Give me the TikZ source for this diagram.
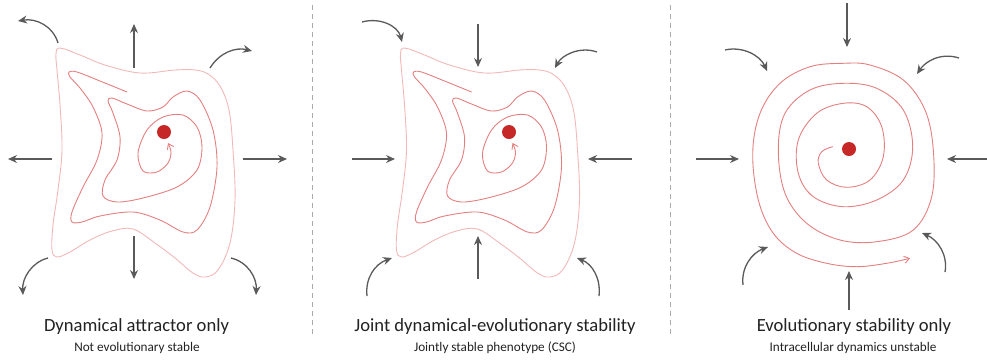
\documentclass[tikz,border=0pt]{standalone}
\usepackage{fontspec}
\setmainfont{Carlito}
\usetikzlibrary{arrows.meta}
\definecolor{arrowgrey}{HTML}{5A5A5A}
\definecolor{outerpink}{HTML}{F2B8B8}
\definecolor{spiralred}{HTML}{E47F7F}
\definecolor{dotred}{HTML}{C62828}
\definecolor{sepgrey}{HTML}{AAAAAA}
\definecolor{textdark}{HTML}{222222}
\tikzset{
  flow/.style={draw=arrowgrey, line width=1.3pt, -{Stealth[length=9pt,width=8pt]}},
  outercurve/.style={draw=outerpink, line width=0.9pt},
  spiralcurve/.style={draw=spiralred, line width=0.9pt, line cap=round, line join=round},
  spiralend/.style={-{Straight Barb[length=5pt,width=7pt]}},
  fixdot/.style={circle, fill=dotred, inner sep=0pt, minimum size=14pt},
  sepline/.style={draw=sepgrey, line width=0.8pt, dash pattern=on 5pt off 4pt},
  titletext/.style={text=textdark, font=\fontsize{18.6}{21}\selectfont, anchor=center},
  subtext/.style={text=textdark, font=\fontsize{13.2}{15}\selectfont, anchor=center}
}
\newcommand{\landscapeshape}{%
  \draw[outercurve] plot[smooth cycle, tension=0.6] coordinates {
    (60,48) (80,55) (105,65) (140,73) (175,70) (195,70) (208,74) (220,86) (229,110)
    (233,150) (235,200) (230,243) (218,270) (205,277) (193,273) (175,258) (155,243)
    (133,229) (112,231) (90,240) (70,252) (57,257) (52,250) (53,225) (58,190)
    (62,150) (60,105) (57,70) (56,54)};
  \draw[spiralcurve, spiralend] plot[smooth, tension=0.55] coordinates {
    (127,92) (100,81) (77,72) (69,72) (70,77) (80,88) (93,107) (102,133) (97,160)
    (83,187) (72,212) (72,222) (82,222) (100,216) (133,212) (160,220) (183,232)
    (197,230) (210,207) (217,167) (213,130) (200,100) (187,91) (173,97) (163,107)
    (147,111) (127,104) (112,98) (108,101) (113,113) (120,137) (117,160) (105,180)
    (103,196) (117,202) (143,198) (177,187) (197,170) (202,147) (197,127) (183,115)
    (163,117) (147,130) (138,153) (143,171) (157,172) (168,163) (171,152) (168,143)};
}
\begin{document}
\begin{tikzpicture}[x=1pt,y=-1pt]
\useasboundingbox (0,0) rectangle (987,360);
% separators
\coordinate (s1a) at (312,5); \coordinate (s1b) at (312,336);
\coordinate (s2a) at (670,5); \coordinate (s2b) at (670,336);
\draw[sepline] (s1a) -- (s1b);
\draw[sepline] (s2a) -- (s2b);

% ---------- Panel 1 ----------
\landscapeshape
\node[fixdot] (d1) at (164,132) {};
\draw[flow] (134,68) -- (134,24);
\draw[flow] (52,159) -- (8,159);
\draw[flow] (243,159) -- (287,159);
\draw[flow] (134,236) -- (134,279);
\draw[flow] (58,43) .. controls (53,26) and (36,18) .. (18,21);
\draw[flow] (210,68) .. controls (220,52) and (236,47) .. (252,51);
\draw[flow] (48,258) .. controls (32,262) and (22,278) .. (23,295);
\draw[flow] (231,258) .. controls (248,262) and (257,278) .. (256,295);
\node[titletext] (t1) at (136.5,327) {Dynamical attractor only};
\node[subtext] (u1) at (137,348) {Not evolutionary stable};

% ---------- Panel 2 ----------
\begin{scope}[xshift=344.5pt]
\landscapeshape
\end{scope}
\node[fixdot] (d2) at (509,132) {};
\draw[flow] (478,24) -- (478,67);
\draw[flow] (352,159) -- (395,159);
\draw[flow] (632,159) -- (588,159);
\draw[flow] (478,279) -- (478,236);
\draw[flow] (362,22) .. controls (380,17) and (398,26) .. (402,42);
\draw[flow] (597,52) .. controls (580,46) and (562,55) .. (555,68);
\draw[flow] (367,296) .. controls (365,278) and (375,264) .. (392,258);
\draw[flow] (599,296) .. controls (601,278) and (592,264) .. (577,258);
\node[titletext] (t2) at (495,327) {Joint dynamical-evolutionary stability};
\node[subtext] (u2) at (495,348) {Jointly stable phenotype (CSC)};

% ---------- Panel 3 ----------
\draw[spiralcurve, spiralend] plot[smooth, tension=0.6] coordinates {
  (832.7,146.7) (821.7,151.7) (818.3,163.3) (826.7,180) (846.7,187.3) (870,180)
  (883.3,156.7) (881.7,126.7) (866.7,106.7) (843.3,103.3) (816.7,113.3) (798.3,140)
  (798.3,173.3) (813.3,196.7) (843.3,206.7) (876.7,200) (903.3,180) (912.7,146.7)
  (903.3,110) (876.7,88.3) (843.3,83.3) (810,90) (785,113.3) (778.3,150)
  (785,193.3) (806.7,223.3) (840,240) (876.7,241.7) (913.3,230) (931.7,196.7)
  (933.3,150) (925,110) (903.3,80) (870,65) (843.3,63.3) (810,66.7) (780,83.3)
  (760,113.3) (752.7,153.3) (758.3,200) (773.3,233.3) (796.7,253.3) (826.7,263.3)
  (856.7,266.7) (886.7,263.3) (910,258.3)};
\node[fixdot] (d3) at (849,149) {};
\draw[flow] (847,3) -- (847,47);
\draw[flow] (696,159) -- (739,159);
\draw[flow] (987,159) -- (947,159);
\draw[flow] (849,310) -- (849,271);
\draw[flow] (725,50) .. controls (742,46) and (760,55) .. (767,71);
\draw[flow] (959,58) .. controls (940,52) and (925,62) .. (917,74);
\draw[flow] (743,285) .. controls (741,267) and (752,253) .. (768,247);
\draw[flow] (945,272) .. controls (948,255) and (938,240) .. (922,233);
\node[titletext] (t3) at (854,327) {Evolutionary stability only};
\node[subtext] (u3) at (853,348) {Intracellular dynamics unstable};
\end{tikzpicture}
\end{document}
